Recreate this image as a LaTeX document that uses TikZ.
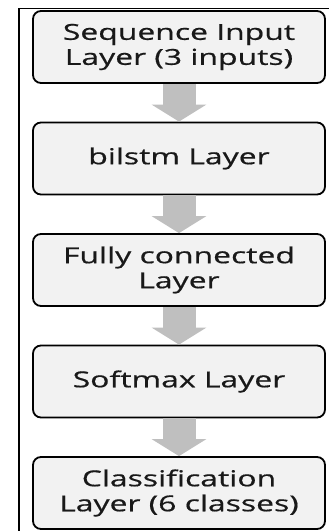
\documentclass[tikz,border=0pt]{standalone}
\usepackage{fontspec}
\newfontfamily\layerfont[FakeStretch=1.45,FakeBold=0.6]{Open Sans}
\usetikzlibrary{arrows.meta}
\definecolor{boxgray}{HTML}{F2F2F2}
\definecolor{arrowgray}{HTML}{BFBFBF}
\begin{document}
\begin{tikzpicture}[x=1pt,y=-1pt,
  layer/.style={draw=black,line width=1.8pt,rounded corners=8pt,fill=boxgray,
    minimum width=292pt,minimum height=72pt,inner sep=0pt,align=center,
    text=black!90,font=\layerfont\fontsize{22}{25}\selectfont},
  flow/.style={draw=arrowgray,line width=33pt,-{Triangle[width=54pt,length=17pt]}}]
\useasboundingbox (0,0) rectangle (329,531);
\draw[line width=1.5pt] (19,531) -- (19,8.5) -- (329,8.5);
\node[layer] (seq) at (179,47) {Sequence Input\\Layer (3 inputs)};
\node[layer] (lstm) at (179,158.5) {bilstm Layer};
\node[layer] (fc) at (179,270) {Fully connected\\Layer};
\node[layer] (soft) at (179,381.5) {Softmax Layer};
\node[layer] (cls) at (179,493) {Classification\\Layer (6 classes)};
\foreach \a/\b in {seq/lstm,lstm/fc,fc/soft,soft/cls} \draw[flow] (\a) -- (\b);
\end{tikzpicture}
\end{document}
